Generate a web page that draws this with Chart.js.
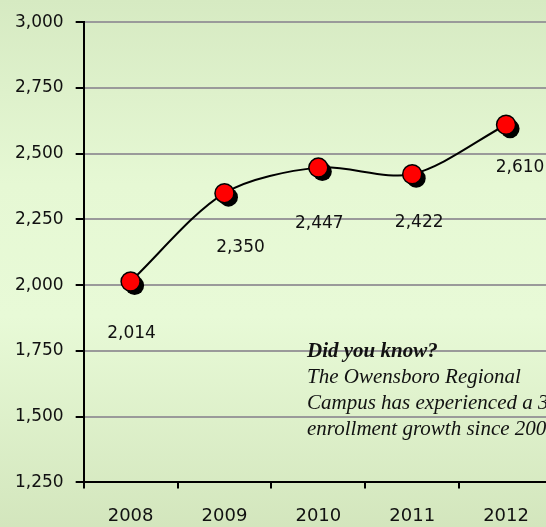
<!DOCTYPE html>
<html>
<head>
<meta charset="utf-8">
<script src="https://cdn.jsdelivr.net/npm/chart.js@4/dist/chart.umd.min.js"></script>
<style>
  html, body { margin: 0; padding: 0; overflow: hidden; }
  #wrap {
    position: relative; width: 546px; height: 527px; overflow: hidden;
    background: linear-gradient(to bottom, #d6eac2 0%, #e6f8d4 35%, #e8fad7 60%, #d3e6bd 100%);
  }
  #box { position: absolute; left: 0; top: 0; width: 564px; height: 544px; }
  #note {
    position: absolute; left: 307px; top: 337px; width: 280px;
    font-family: "Liberation Serif", serif; font-style: italic; font-size: 21px;
    line-height: 26px; color: #111; white-space: nowrap;
  }
  #note b { font-weight: bold; }
</style>
</head>
<body>
<div id="wrap">
  <div id="box"><canvas id="myChart"></canvas></div>
  <div id="note"><b>Did you know?</b><br>The Owensboro Regional<br>Campus has experienced a 30%<br>enrollment growth since 2008</div>
</div>
<script>
const years = ["2008", "2009", "2010", "2011", "2012"];
const enrollment = [2014, 2350, 2447, 2422, 2610];
const yTicks = [1250, 1500, 1750, 2000, 2250, 2500, 2750, 3000];

const fmt = (v) => v.toLocaleString("en-US");

// where each value label sits relative to its marker (dx, dy)
const labelShift = [[1, 52], [16, 54], [1, 56], [7, 48], [14, 43]];

// black "shadow" discs behind the red markers + value labels
const shadowPlugin = {
  id: "shadow",
  beforeDatasetsDraw(chart) {
    const ctx = chart.ctx;
    const meta = chart.getDatasetMeta(0);
    ctx.save();
    ctx.fillStyle = "#000";
    meta.data.forEach((pt) => {
      ctx.beginPath();
      ctx.arc(pt.x + 4, pt.y + 4, 9.5, 0, Math.PI * 2);
      ctx.fill();
    });
    ctx.restore();
  },
  afterDatasetsDraw(chart) {
    const ctx = chart.ctx;
    const meta = chart.getDatasetMeta(0);
    ctx.save();
    ctx.font = "17px 'DejaVu Sans'";
    ctx.fillStyle = "#111";
    ctx.textAlign = "center";
    ctx.textBaseline = "middle";
    meta.data.forEach((pt, i) => {
      const s = labelShift[i];
      ctx.fillText(fmt(enrollment[i]), pt.x + s[0], pt.y + s[1]);
    });
    ctx.restore();
  },
};

const ctx = document.getElementById("myChart");

new Chart(ctx, {
  type: "line",
  data: {
    labels: years,
    datasets: [
      {
        data: enrollment,
        borderColor: "#000",
        borderWidth: 2,
        tension: 0.3,
        pointRadius: 9.5,
        pointBackgroundColor: "#ff0000",
        pointBorderColor: "#000",
        pointBorderWidth: 1.5,
        clip: false,
      },
    ],
  },
  options: {
    responsive: true,
    maintainAspectRatio: false,
    animation: false,
    layout: { padding: { top: 14, right: 0, bottom: 0, left: 3 } },
    plugins: { legend: { display: false }, tooltip: { enabled: false } },
    scales: {
      x: {
        offset: true,
        grid: {
          display: true,
          offset: true,
          drawOnChartArea: false,
          color: "#000",
          lineWidth: 2,
          tickLength: 6,
        },
        border: { color: "#000", width: 2 },
        ticks: { color: "#111", font: { family: "DejaVu Sans", size: 18 }, padding: 17 },
      },
      y: {
        min: 1250,
        max: 3000,
        afterBuildTicks: (axis) => {
          axis.ticks = yTicks.map((v) => ({ value: v }));
        },
        grid: {
          color: "#9a9a9a",
          lineWidth: 2,
          tickColor: "#000",
          tickLength: 8,
        },
        border: { color: "#000", width: 2 },
        ticks: {
          color: "#111",
          font: { family: "DejaVu Sans", size: 17 },
          padding: 12,
          callback: (v) => fmt(v),
        },
      },
    },
  },
  plugins: [shadowPlugin],
});
</script>
</body>
</html>
